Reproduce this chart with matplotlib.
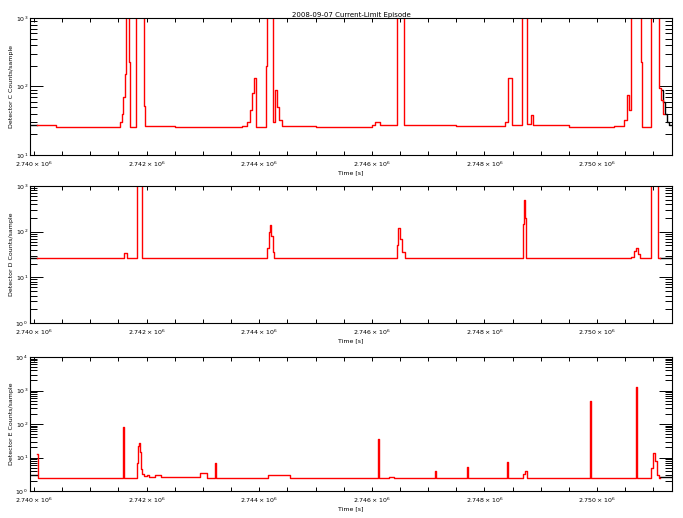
import matplotlib
matplotlib.use('Agg')
import matplotlib.pyplot as plt
import numpy as np
from matplotlib.ticker import MultipleLocator, LogLocator, NullFormatter

# time axis, seconds after T0
T0 = 2740000.0
x_ticks = [2740000, 2742000, 2744000, 2746000, 2748000, 2750000]
x_tick_labels = [r'$2.740\times10^{6}$', r'$2.742\times10^{6}$', r'$2.744\times10^{6}$',
                 r'$2.746\times10^{6}$', r'$2.748\times10^{6}$', r'$2.750\times10^{6}$']
x_range = [2739930, 2751330]

# Detector C (counts/sample)
c_time = [53, 400, 900, 1400, 1530, 1560, 1590, 1610, 1634, 1682, 1700, 1812, 1954, 1980,
          2500, 3200, 3700, 3783, 3830, 3872, 3907, 3943, 4120, 4138, 4240, 4280, 4310,
          4360, 4410, 5000, 6000, 6056, 6140, 6447, 6571, 7500, 8365, 8420, 8480, 8667,
          8760, 8820, 8860, 9500, 10300, 10480, 10530, 10570, 10603, 10780, 10798, 10952,
          11100, 11136, 11170, 11190]
c_vals = [27, 26, 25.5, 26, 30, 40, 70, 150, 2000, 228, 26, 2000, 52, 26.5,
          25.5, 26, 26.5, 30, 45, 80, 133, 26, 200, 2000, 30, 90, 50,
          32, 26.5, 26, 27, 30, 27, 2000, 27, 26.5, 30, 133, 27, 2000,
          28, 38, 27, 25.5, 26.5, 32, 75, 45, 2000, 228, 26, 2000,
          95, 63, 40, 40]
c_black_start_time = [-70, 53]
c_black_start_vals = [27.5, 27.5]
c_black_end_time = [11150, 11170, 11200, 11240, 11280, 11331]
c_black_end_vals = [90, 60, 40, 30, 27, 27]

# Detector D
d_time = [53, 1560, 1600, 1650, 1829, 1918, 4100, 4140, 4170, 4190, 4210, 4240, 4270,
          6400, 6440, 6470, 6500, 6540, 6580, 8660, 8690, 8702, 8720, 8740, 10600, 10650,
          10692, 10730, 10760, 10958, 11082, 11118]
d_vals = [26.5, 27, 34, 27, 2000, 27, 27, 45, 100, 139, 80, 35, 27,
          27, 50, 120, 70, 35, 27, 27, 150, 490, 200, 27, 28, 38,
          44, 32, 27, 2000, 27, 27]
d_black_start_time = [-70, 53]
d_black_start_vals = [27, 27]
d_black_end_time = [11118, 11331]
d_black_end_vals = [26.5, 26.5]

# Detector E
e_time = [53, 70, 1581, 1595, 1829, 1850, 1865, 1883, 1900, 1918, 1950, 2000, 2050, 2150,
          2250, 2948, 3072, 3215, 3225, 4150, 4550, 6109, 6120, 6300, 6400, 7122, 7135,
          7690, 7705, 8400, 8415, 8680, 8720, 8760, 9875, 9890, 10692, 10705, 10950,
          10990, 11030, 11070, 11100, 11118]
e_vals = [13, 2.5, 79, 2.5, 7, 22, 27.8, 15, 4.6, 3.3, 2.8, 3.1, 2.7, 3.0,
          2.6, 3.4, 2.5, 7, 2.5, 3.0, 2.5, 36.6, 2.5, 2.7, 2.5, 4.0, 2.5,
          5.3, 2.5, 7.4, 2.5, 3.2, 4.0, 2.5, 475, 2.5, 1250, 2.5, 5,
          13.9, 8, 3, 2.5, 2.5]
e_black_start_time = [-70, 53]
e_black_start_vals = [3, 3]
e_black_end_time = [11118, 11331]
e_black_end_vals = [2.6, 2.6]

panels = [
    ('Detector C Counts/sample', (10, 1000), (c_time, c_vals),
     [(c_black_start_time, c_black_start_vals), (c_black_end_time, c_black_end_vals)]),
    ('Detector D Counts/sample', (1, 1000), (d_time, d_vals),
     [(d_black_start_time, d_black_start_vals), (d_black_end_time, d_black_end_vals)]),
    ('Detector E Counts/sample', (1, 10000), (e_time, e_vals),
     [(e_black_start_time, e_black_start_vals), (e_black_end_time, e_black_end_vals)]),
]

W, H = 683, 518
fig = plt.figure(figsize=(W / 100, H / 100), dpi=100)
boxes = [(18, 155), (186, 323), (357, 491)]
left, right = 30, 672

for (ylab, ylim, red, blacks), (top, bot) in zip(panels, boxes):
    ax = fig.add_axes([left / W, 1 - bot / H, (right - left) / W, (bot - top) / H])
    for bt, bv in blacks:
        ax.plot(T0 + np.array(bt), bv, color='black', lw=1.0, drawstyle='steps-post')
    ax.plot(T0 + np.array(red[0]), red[1], color='red', lw=1.0, drawstyle='steps-post')
    ax.set_yscale('log')
    ax.set_ylim(*ylim)
    ax.set_xlim(*x_range)
    ax.set_xticks(x_ticks)
    ax.set_xticklabels(x_tick_labels, fontsize=4.5)
    ax.xaxis.set_minor_locator(MultipleLocator(500))
    ax.yaxis.set_major_locator(LogLocator(base=10))
    ax.yaxis.set_minor_locator(LogLocator(base=10, subs=np.arange(2, 10)))
    ax.yaxis.set_minor_formatter(NullFormatter())
    ax.tick_params(axis='y', which='major', direction='in', length=9.4, width=0.7,
                   right=True, labelsize=4.5, pad=1.5)
    ax.tick_params(axis='y', which='minor', direction='in', length=5, width=0.7, right=True)
    ax.tick_params(axis='x', which='both', direction='in', length=2.6, width=0.7,
                   top=True, pad=3.5)
    for s in ax.spines.values():
        s.set_linewidth(0.8)
    ax.set_xlabel('Time [s]', fontsize=4.5, labelpad=1)
    ax.set_ylabel(ylab, fontsize=4.5, labelpad=1)
    if top == 18:
        ax.set_title('2008-09-07 Current-Limit Episode', fontsize=5, pad=1)

fig.savefig('out.png', dpi=100)
